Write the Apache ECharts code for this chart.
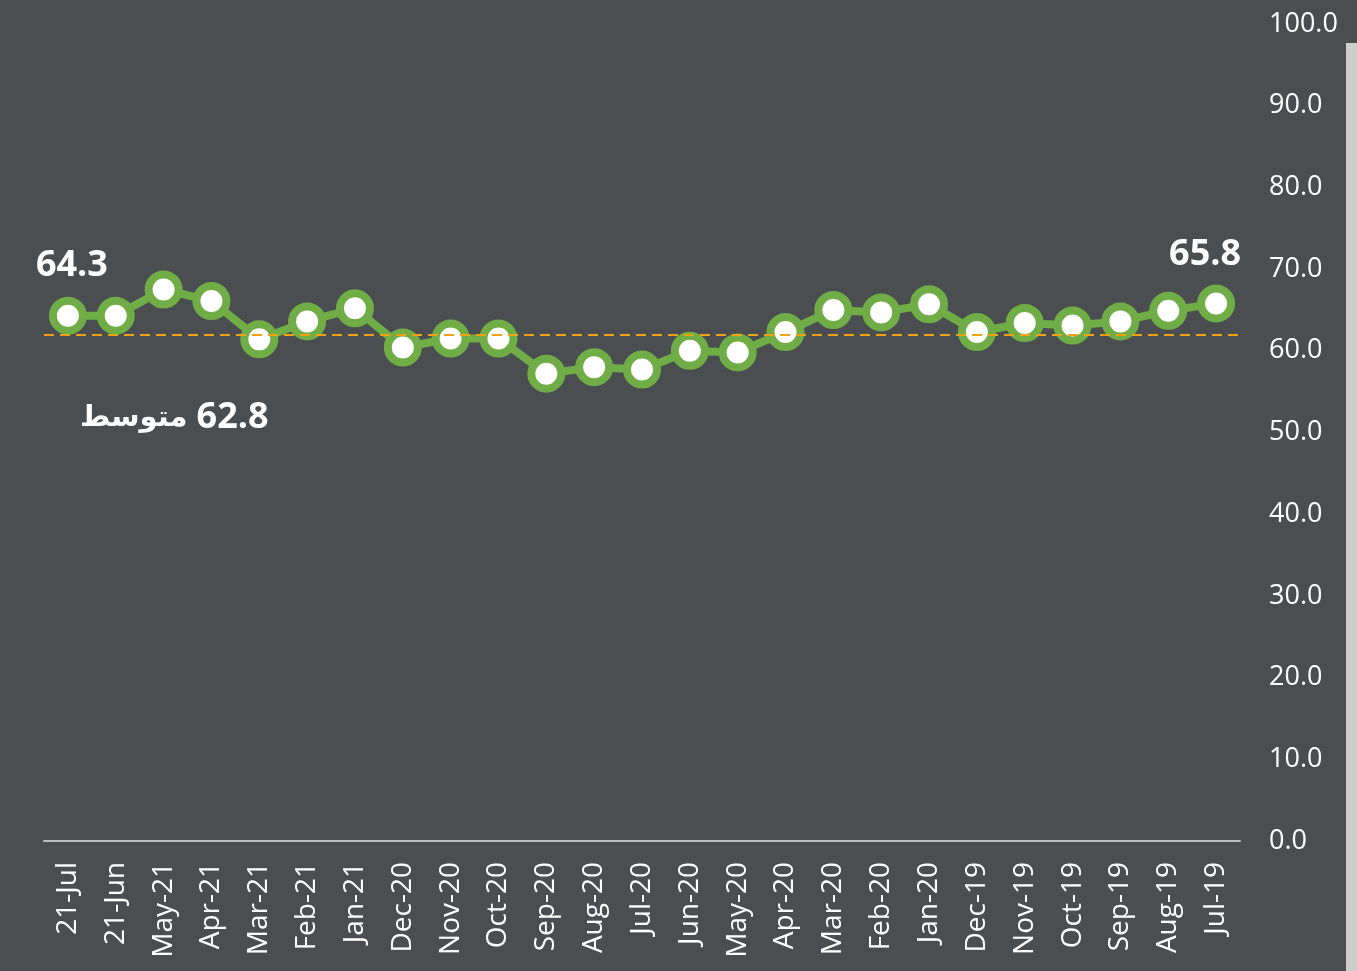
<!DOCTYPE html>
<html>
<head>
<meta charset="utf-8">
<script src="https://cdn.jsdelivr.net/npm/echarts@6/dist/echarts.min.js"></script>
<style>
  html, body { margin: 0; padding: 0; background: #4b4e50; }
  #chart { width: 1357px; height: 971px; }
</style>
</head>
<body>
<div id="chart"></div>
<script>
// categories, newest first (as drawn left to right)
var months = ['21-Jul', '21-Jun', 'May-21', 'Apr-21', 'Mar-21', 'Feb-21', 'Jan-21',
  'Dec-20', 'Nov-20', 'Oct-20', 'Sep-20', 'Aug-20', 'Jul-20', 'Jun-20', 'May-20',
  'Apr-20', 'Mar-20', 'Feb-20', 'Jan-20', 'Dec-19', 'Nov-19', 'Oct-19', 'Sep-19',
  'Aug-19', 'Jul-19'];
var values = [64.3, 64.3, 67.5, 66.1, 61.4, 63.6, 65.2,
  60.4, 61.5, 61.5, 57.2, 58.0, 57.7, 60.0, 59.8,
  62.3, 65.0, 64.7, 65.7, 62.3, 63.4, 63.1, 63.6,
  64.9, 65.8];
var avgValue = 62.8;      // value printed in the label
var avgLineLevel = 62.0;  // where the dashed line sits in the picture
var avgWord = 'متوسط';
var yTicks = { min: 0, max: 100, interval: 10 };

var chart = echarts.init(document.getElementById('chart'));

// first and last points carry a big label
var seriesData = values.map(function (v, i) {
  if (i === 0) {
    return { value: v, label: { show: true, position: 'top', distance: 13, offset: [4, 0] } };
  }
  if (i === values.length - 1) {
    return { value: v, label: { show: true, position: 'top', distance: 12, offset: [-11, 0] } };
  }
  return v;
});

chart.setOption({
  backgroundColor: '#4b4e50',
  animation: false,
  textStyle: { fontFamily: 'Open Sans, Noto Sans, DejaVu Sans, sans-serif' },
  grid: { left: 44, right: 117, top: 24, bottom: 130 },
  graphic: [
    {
      type: 'rect',
      shape: { x: 1346, y: 43, width: 11, height: 928 },
      style: { fill: '#cdcdcb' },
      silent: true
    },
    {
      // arabic word on the left, number on the right, drawn as two rich tokens
      type: 'text',
      left: 80,
      top: 400,
      style: {
        text: '{w|' + avgWord + '}{n|' + avgValue.toFixed(1) + '}',
        fill: '#ffffff',
        rich: {
          w: { fontSize: 29, fontWeight: 'bold', fontFamily: 'DejaVu Sans, sans-serif', fill: '#ffffff', padding: [0, 9, 0, 0] },
          n: { fontSize: 36, fontWeight: 'bold', fontFamily: 'Open Sans, sans-serif', fill: '#ffffff' }
        }
      }
    }
  ],
  xAxis: {
    type: 'category',
    data: months,
    boundaryGap: true,
    axisLine: { lineStyle: { color: '#bdbdbd', width: 2 } },
    axisTick: { show: false },
    axisLabel: {
      interval: 0,
      rotate: 90,
      margin: 21,
      color: '#ffffff',
      fontSize: 28
    },
    splitLine: { show: false }
  },
  yAxis: {
    type: 'value',
    position: 'right',
    min: yTicks.min,
    max: yTicks.max,
    interval: yTicks.interval,
    axisLine: { show: false },
    axisTick: { show: false },
    splitLine: { show: false },
    axisLabel: {
      margin: 29,
      color: '#ffffff',
      fontSize: 27,
      formatter: function (v) { return v.toFixed(1); }
    }
  },
  series: [
    {
      type: 'line',
      data: seriesData,
      symbol: 'circle',
      symbolSize: 30,
      lineStyle: { color: '#70ad47', width: 8 },
      itemStyle: { color: '#ffffff', borderColor: '#70ad47', borderWidth: 8 },
      label: {
        show: false,
        color: '#ffffff',
        fontSize: 36,
        fontWeight: 'bold',
        formatter: function (p) { return p.value.toFixed(1); }
      },
      z: 3,
      markLine: {
        silent: true,
        symbol: 'none',
        label: { show: false },
        lineStyle: { color: '#f3a20c', type: [10, 6], width: 2 },
        data: [{ yAxis: avgLineLevel }],
        z: 5
      }
    }
  ]
});
</script>
</body>
</html>
